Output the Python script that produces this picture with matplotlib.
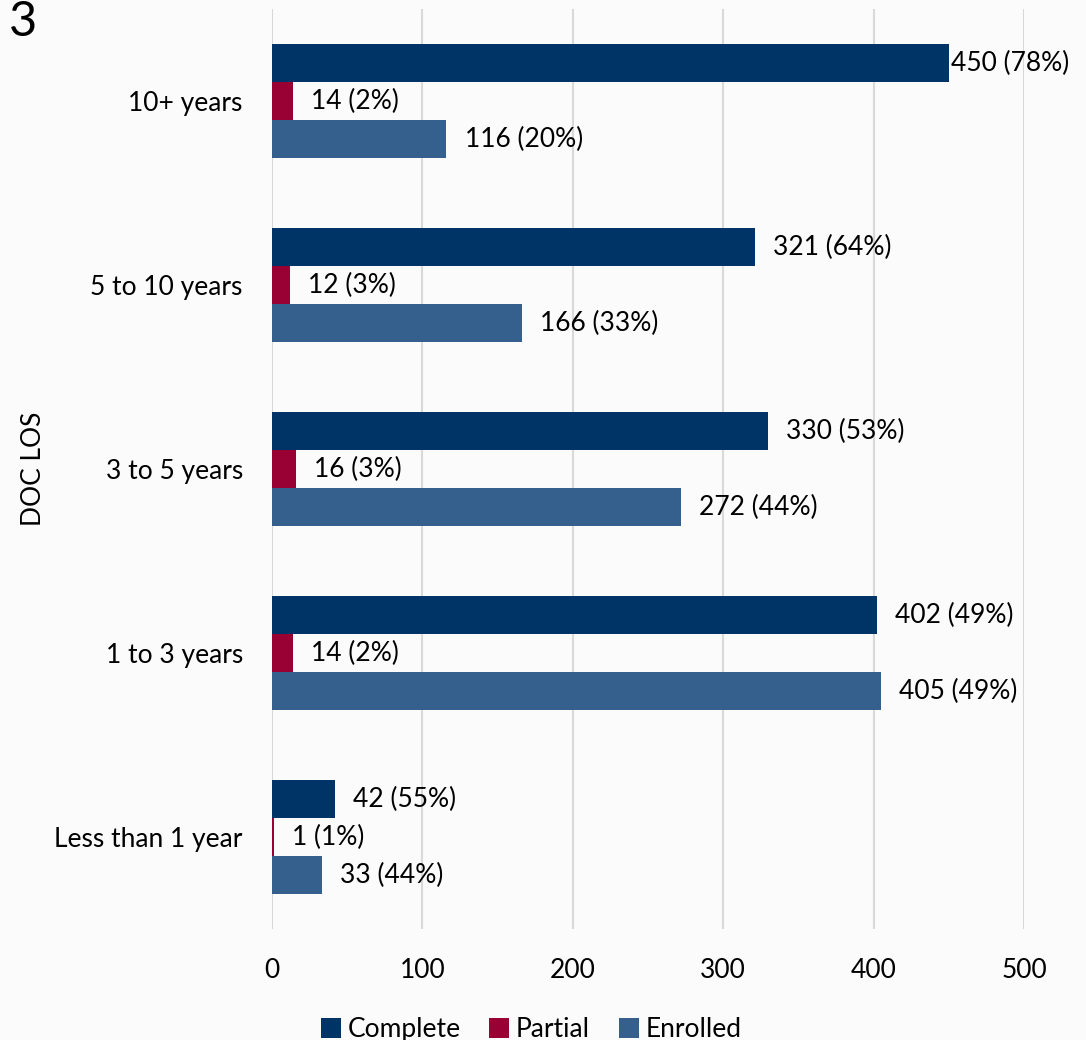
import matplotlib
matplotlib.use("Agg")
import matplotlib.pyplot as plt
from matplotlib.patches import Patch

plt.rcParams['font.family'] = ['Lato', 'DejaVu Sans']

categories = ["Less than 1 year", "1 to 3 years", "3 to 5 years", "5 to 10 years", "10+ years"]
series_names = ["Complete", "Partial", "Enrolled"]
complete = [42, 402, 330, 321, 450]
partial = [1, 14, 16, 12, 14]
enrolled = [33, 405, 272, 166, 116]
complete_pct = [55, 49, 53, 64, 78]
partial_pct = [1, 2, 3, 3, 2]
enrolled_pct = [44, 49, 44, 33, 20]
x_ticks = [0, 100, 200, 300, 400, 500]

colors = ["#003466", "#990033", "#355F8D"]
bg = "#fbfbfb"
fs = 19

fig = plt.figure(figsize=(10.86, 10.40), dpi=100, facecolor=bg)
ax = fig.add_axes([272 / 1086, 1 - 929 / 1040, 752 / 1086, 920 / 1040])
ax.set_facecolor(bg)

bar_h = 0.2065
offsets = [bar_h, 0.0, -bar_h]
values = [complete, partial, enrolled]
pcts = [complete_pct, partial_pct, enrolled_pct]

for s, (vals, pc, off, col) in enumerate(zip(values, pcts, offsets, colors)):
    ys = [i + off for i in range(len(categories))]
    ax.barh(ys, vals, height=bar_h, color=col, zorder=3)
    for y, v, p in zip(ys, vals, pc):
        # labels near the right edge are pulled in against the bar end
        dx = 1.5 if v > 440 else 13
        ax.annotate(f"{v} ({p}%)", xy=(v, y), xytext=(dx, 0),
                    textcoords="offset points", va="center", ha="left",
                    fontsize=fs, color="#000000", zorder=4, annotation_clip=False)

ax.set_xlim(0, 500)
ax.set_ylim(-0.5, len(categories) - 0.5)
ax.set_xticks(x_ticks)
ax.set_xticklabels([str(t) for t in x_ticks], fontsize=fs)
ax.set_yticks(range(len(categories)))
ax.set_yticklabels(categories, fontsize=fs)
ax.tick_params(axis="both", length=0)
ax.tick_params(axis="x", pad=21)
ax.tick_params(axis="y", pad=21)
ax.grid(axis="x", color="#d9d9d9", linewidth=1.5, zorder=0)
for sp in ax.spines.values():
    sp.set_visible(False)

ax.set_ylabel("DOC LOS", fontsize=fs)
ax.yaxis.set_label_coords(-0.301, 0.5)

fig.text(9 / 1086, 1 - 0.5 / 1040, "3", fontsize=35, ha="left", va="top")

handles = [Patch(facecolor=c, edgecolor="none") for c in colors]
fig.legend(handles, series_names, loc="center", bbox_to_anchor=(0.489, 0.010),
           ncol=3, frameon=False, fontsize=fs, handlelength=0.75, handleheight=0.75,
           handletextpad=0.25, columnspacing=1.1, borderpad=0)

fig.savefig("out.png", dpi=100, facecolor=bg)
